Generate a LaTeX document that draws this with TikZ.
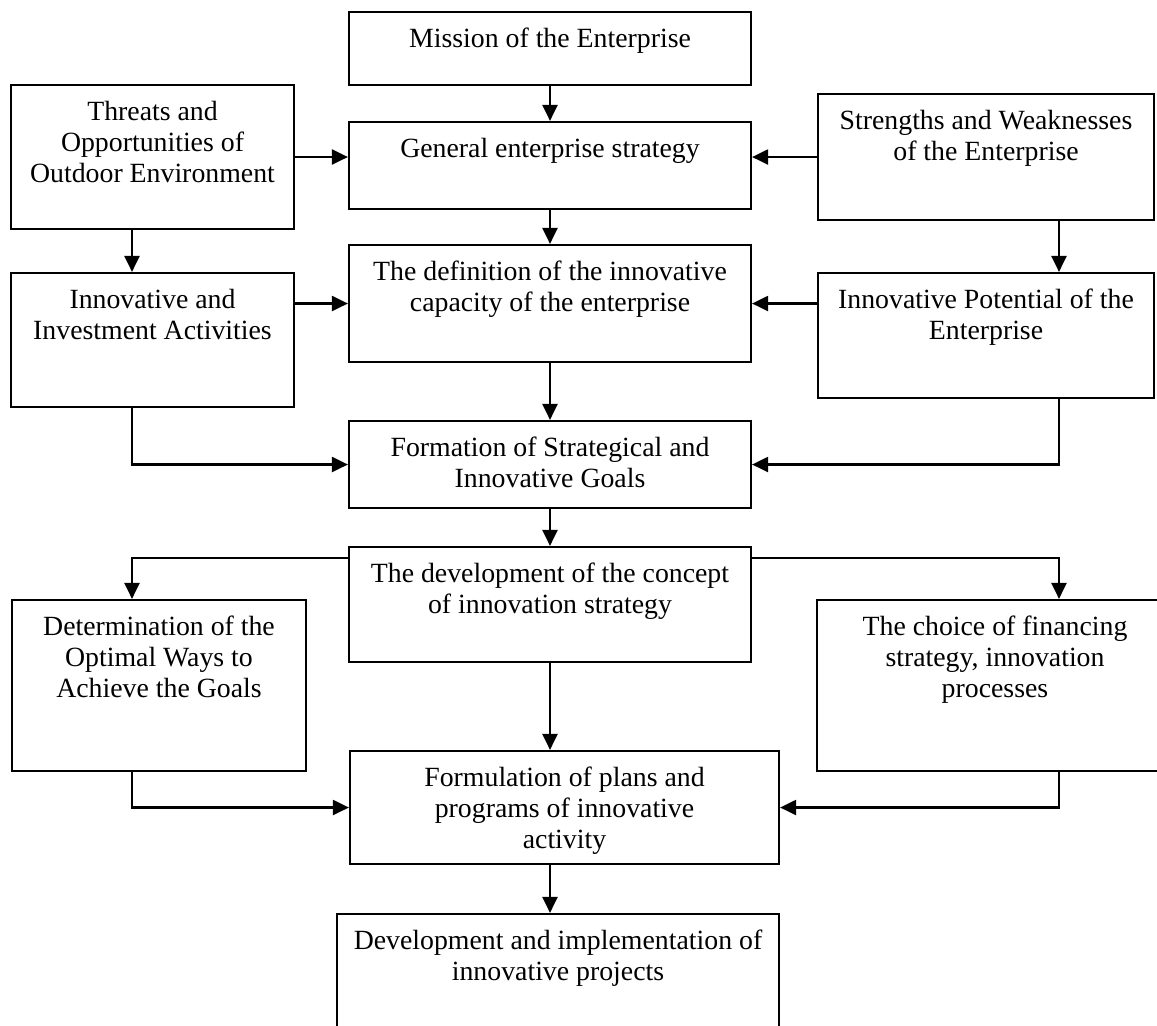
\documentclass[tikz,border=0pt]{standalone}
\usepackage{fontspec}
\setmainfont{Liberation Serif}
\usetikzlibrary{arrows.meta,calc}

\newcommand{\boxtext}[3]{\parbox[t][#2][t]{#1}{\centering\rule{0pt}{17.7pt}#3}}

\begin{document}
\begin{tikzpicture}[x=0.5pt,y=-0.5pt,
  blk/.style={draw,line width=1.1pt,inner sep=0pt,font=\fontsize{13.9}{15.4}\selectfont},
  arr/.style={line width=1.1pt,-{Triangle[length=8pt,width=7.5pt]}}]
\useasboundingbox (0,0) rectangle (1157,1025);
\coordinate (lx) at (132,0);
\coordinate (rx) at (1059,0);

\node[blk] (mission) at (550,48.5) {\boxtext{201pt}{36.5pt}{Mission of the Enterprise}};
\node[blk] (general) at (550,165.5) {\boxtext{201pt}{43.5pt}{General enterprise strategy}};
\node[blk] (threats) at (152.5,157) {\boxtext{141.5pt}{72pt}{Threats and\\Opportunities of\\Outdoor Environment}};
\node[blk] (strengths) at (986,157) {\boxtext{168pt}{63pt}{Strengths and Weaknesses\\of the Enterprise}};
\node[blk] (definition) at (550,303.5) {\boxtext{201pt}{58.5pt}{The definition of the innovative\\capacity of the enterprise}};
\node[blk] (innov) at (152.5,340) {\boxtext{141.5pt}{67pt}{Innovative and\\Investment Activities}};
\node[blk] (potential) at (986,335.5) {\boxtext{168pt}{62.5pt}{Innovative Potential of the\\Enterprise}};
\node[blk] (formation) at (550,464.5) {\boxtext{201pt}{43.5pt}{Formation of Strategical and\\Innovative Goals}};
\node[blk] (concept) at (550,604.5) {\boxtext{201pt}{57.5pt}{The development of the concept\\of innovation strategy}};
\node[blk] (determination) at (159,685.5) {\boxtext{147pt}{85.5pt}{Determination of the\\Optimal Ways to\\Achieve the Goals}};
\node[blk] (choice) at (995,685.5) {\boxtext{178pt}{85.5pt}{The choice of financing\\strategy, innovation\\processes}};
\node[blk] (formulation) at (564.5,807.5) {\boxtext{214.5pt}{56.5pt}{Formulation of plans and\\programs of innovative\\activity}};
\node[blk] (development) at (558,977) {\boxtext{221pt}{63pt}{Development and implementation of\\innovative projects}};

\draw[arr] (mission) -- (general);
\draw[arr] (threats.east) -- (threats.east -| general.west);
\draw[arr] (strengths.west) -- (strengths.west -| general.east);
\draw[arr] (general) -- (definition);
\draw[arr] (threats.south -| lx) -- (innov.north -| lx);
\draw[arr] (strengths.south -| rx) -- (potential.north -| rx);
\draw[arr] (definition.west -| innov.east) -- (definition.west);
\draw[arr] (definition.east -| potential.west) -- (definition.east);
\draw[arr] (definition) -- (formation);
\draw[arr] (innov.south -| lx) |- (formation.west);
\draw[arr] (potential.south -| rx) |- (formation.east);
\draw[arr] (formation) -- (concept);
\draw[arr] ([yshift=-6pt]concept.north west) -| (determination.north -| lx);
\draw[arr] ([yshift=-6pt]concept.north east) -| (choice.north -| rx);
\draw[arr] (concept.south) -- (concept.south |- formulation.north);
\draw[arr] (determination.south -| lx) |- (formulation.west);
\draw[arr] (choice.south -| rx) |- (formulation.east);
\draw[arr] (concept.south |- formulation.south) -- (concept.south |- development.north);
\end{tikzpicture}
\end{document}
